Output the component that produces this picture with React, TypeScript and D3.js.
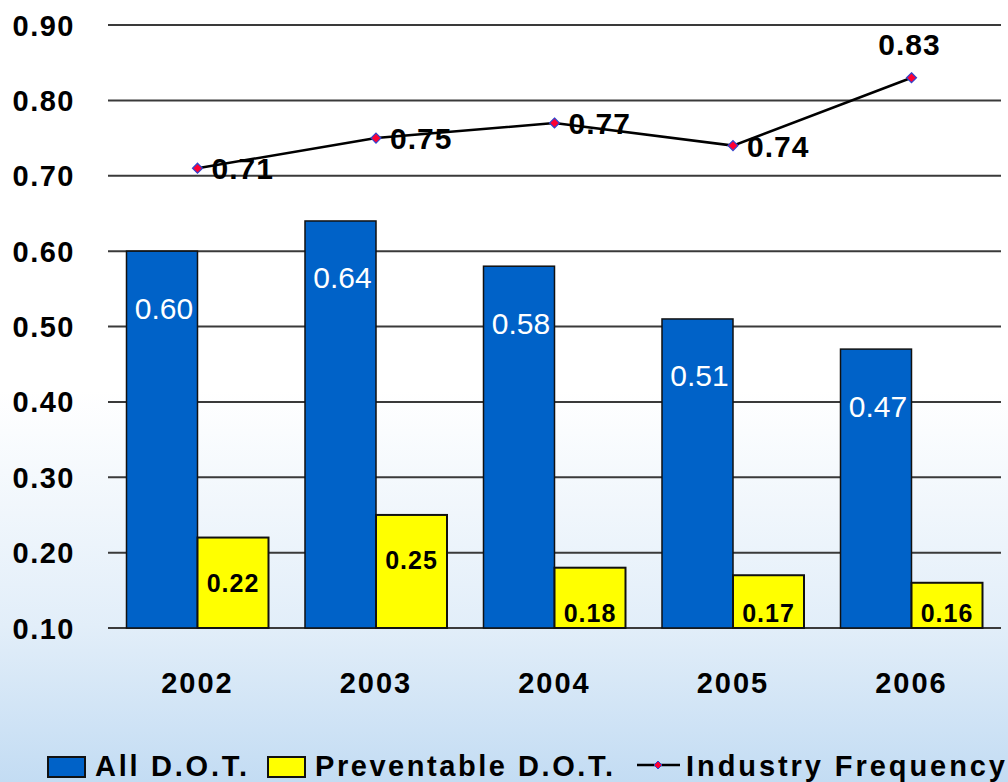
import React from "react";
import * as d3 from "d3";

const years = ["2002", "2003", "2004", "2005", "2006"];
const allDOT = [0.6, 0.64, 0.58, 0.51, 0.47];
const preventableDOT = [0.22, 0.25, 0.18, 0.17, 0.16];
const industryFrequency = [0.71, 0.75, 0.77, 0.74, 0.83];
const yTicks = [0.1, 0.2, 0.3, 0.4, 0.5, 0.6, 0.7, 0.8, 0.9];
const seriesNames = ["All D.O.T.", "Preventable D.O.T."];

const W = 1008;
const H = 782;
const FONT = "'Liberation Sans', Arial, sans-serif";

export default function App() {
  const x = d3.scaleBand<string>().domain(years).range([108.25, 1000.75]).paddingInner(0).paddingOuter(0);
  const xi = d3.scaleBand<string>().domain(seriesNames).range([0, x.bandwidth()]).paddingInner(0).paddingOuter(0.257);
  const y = d3.scaleLinear().domain([0.1, 0.9]).range([628, 25]);
  const cx = (c: string) => (x(c) as number) + x.bandwidth() / 2;
  const line = d3
    .line<number>()
    .x((_, i) => cx(years[i]))
    .y((d) => y(d));

  const diamond = (px: number, py: number, r = 5) =>
    `M${px},${py - r}L${px + r},${py}L${px},${py + r}L${px - r},${py}Z`;

  return (
    <svg width={W} height={H} style={{ position: "absolute", left: 0, top: 0 }}>
      <defs>
        <linearGradient id="bg" x1="0" y1="0" x2="0" y2="1">
          <stop offset="0" stopColor="#ffffff" />
          <stop offset="0.5" stopColor="#ffffff" />
          <stop offset="0.8" stopColor="#e2eef9" />
          <stop offset="1" stopColor="#c3dcf3" />
        </linearGradient>
      </defs>
      <rect x={0} y={0} width={W} height={H} fill="url(#bg)" />

      {/* gridlines */}
      {yTicks.map((t) => (
        <line key={t} x1={108} x2={1001} y1={y(t)} y2={y(t)} stroke="#3a3a3a" strokeWidth={2} />
      ))}
      {/* y tick labels */}
      {yTicks.map((t) => (
        <text
          key={"l" + t}
          x={75}
          y={y(t) + 10.5}
          textAnchor="end"
          fontFamily={FONT}
          fontWeight="bold"
          fontSize={29}
          letterSpacing={1.5}
          fill="#000"
        >
          {t.toFixed(2)}
        </text>
      ))}

      {/* bars */}
      {years.map((yr, i) => {
        const bx = (x(yr) as number) + (xi(seriesNames[0]) as number);
        const px = (x(yr) as number) + (xi(seriesNames[1]) as number);
        const bw = xi.bandwidth();
        const topA = y(allDOT[i]);
        const topP = y(preventableDOT[i]);
        const base = y(0.1);
        return (
          <g key={yr}>
            <rect x={bx} y={topA} width={bw} height={base - topA} fill="#0062c8" stroke="#111" strokeWidth={1.5} />
            <rect x={px} y={topP} width={bw} height={base - topP} fill="#ffff00" stroke="#111" strokeWidth={2} />
            <text
              x={bx + bw / 2 + 2}
              y={topA + 57}
              textAnchor="middle"
              dominantBaseline="central"
              fontFamily={FONT}
              fontSize={30}
              fill="#ffffff"
            >
              {allDOT[i].toFixed(2)}
            </text>
            <text
              x={px + bw / 2}
              y={Math.min(topP + 45, base - 15)}
              textAnchor="middle"
              dominantBaseline="central"
              fontFamily={FONT}
              fontWeight="bold"
              fontSize={25}
              letterSpacing={1}
              fill="#000"
            >
              {preventableDOT[i].toFixed(2)}
            </text>
          </g>
        );
      })}

      {/* industry frequency line */}
      <path d={line(industryFrequency) || ""} fill="none" stroke="#000" strokeWidth={2.5} />
      {industryFrequency.map((v, i) => {
        const px = cx(years[i]);
        const py = y(v);
        const last = i === industryFrequency.length - 1;
        return (
          <g key={"p" + i}>
            <path d={diamond(px, py)} fill="#ff0033" stroke="#3344cc" strokeWidth={1.2} />
            <text
              x={last ? px - 2 : px + 14}
              y={last ? py - 23 : py + 11}
              textAnchor={last ? "middle" : "start"}
              fontFamily={FONT}
              fontWeight="bold"
              fontSize={30}
              letterSpacing={1}
              fill="#000"
            >
              {v.toFixed(2)}
            </text>
          </g>
        );
      })}

      {/* x labels */}
      {years.map((yr) => (
        <text
          key={"x" + yr}
          x={cx(yr)}
          y={693}
          textAnchor="middle"
          fontFamily={FONT}
          fontWeight="bold"
          fontSize={29}
          letterSpacing={2}
          fill="#000"
        >
          {yr}
        </text>
      ))}

      {/* legend */}
      <g fontFamily={FONT} fontWeight="bold" fontSize={29} fill="#000">
        <rect x={48} y={757} width={37} height={20} fill="#0062c8" stroke="#111" strokeWidth={2} />
        <text x={95} y={776} textLength={152} lengthAdjust="spacing">
          {seriesNames[0]}
        </text>
        <rect x={268} y={757} width={37} height={20} fill="#ffff00" stroke="#111" strokeWidth={2} />
        <text x={315} y={776} textLength={298} lengthAdjust="spacing">
          {seriesNames[1]}
        </text>
        <line x1={637} x2={680} y1={765} y2={765} stroke="#000" strokeWidth={2.5} />
        <path d={diamond(658, 765, 4)} fill="#ff0033" stroke="#3344cc" strokeWidth={1} />
        <text x={686} y={776} textLength={319} lengthAdjust="spacing">
          Industry Frequency
        </text>
      </g>
    </svg>
  );
}
